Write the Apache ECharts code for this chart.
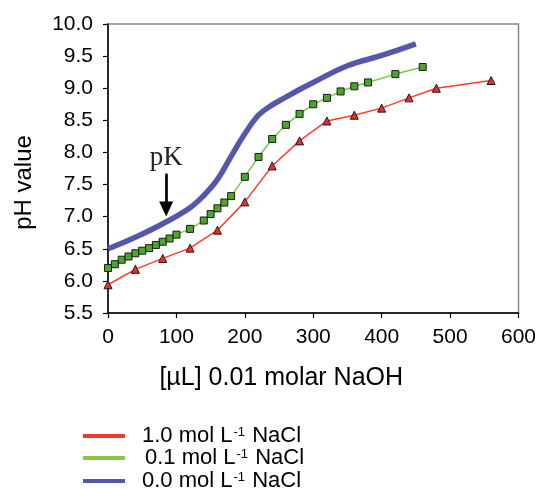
<!DOCTYPE html>
<html>
<head>
<meta charset="utf-8">
<script src="https://cdn.jsdelivr.net/npm/echarts@6/dist/echarts.min.js"></script>
<style>html,body{margin:0;padding:0;background:#fff}#c{width:539px;height:489px}</style>
</head>
<body>
<div id="c"></div>
<script>
const seriesNames = ['1.0 mol L-1 NaCl', '0.1 mol L-1 NaCl', '0.0 mol L-1 NaCl'];
const redX = [0, 40, 80, 120, 160, 200, 240, 280, 320, 360, 400, 440, 480, 560];
const redY = [5.94, 6.18, 6.35, 6.51, 6.79, 7.23, 7.79, 8.18, 8.49, 8.58, 8.69, 8.85, 9.00, 9.12];
const greenX = [0, 10, 20, 30, 40, 50, 60, 70, 80, 90, 100, 120, 140, 150, 160, 170, 180, 200, 220, 240, 260, 280, 300, 320, 340, 360, 380, 420, 460];
const greenY = [6.20, 6.26, 6.33, 6.38, 6.43, 6.47, 6.51, 6.56, 6.61, 6.66, 6.72, 6.81, 6.94, 7.04, 7.13, 7.22, 7.32, 7.62, 7.93, 8.21, 8.43, 8.60, 8.75, 8.85, 8.95, 9.03, 9.09, 9.22, 9.33];
const blueX = [0, 40, 80, 120, 140, 160, 180, 200, 220, 240, 260, 280, 300, 350, 400, 450];
const blueY = [6.50, 6.68, 6.89, 7.14, 7.33, 7.58, 7.94, 8.29, 8.58, 8.74, 8.86, 8.98, 9.09, 9.35, 9.51, 9.69];
const pK = { x: 85, yFrom: 7.67, yTo: 7.22, yHead: 7.12, label: 'pK' };

const zip = (xs, ys) => xs.map((x, i) => [x, ys[i]]);
const chart = echarts.init(document.getElementById('c'));
const font = 'Liberation Sans, Arial, sans-serif';
const legendColors = ['#f03a32', '#8dc63f', '#5558aa'];
const legendTops = [425, 447, 470];
const legendPad = [12, 15, 12];

const legends = seriesNames.map((n, i) => ({
  orient: 'vertical', left: 83, top: legendTops[i], padding: 0,
  itemWidth: 42, itemHeight: 4, icon: 'rect',
  data: [{ name: n, itemStyle: { color: legendColors[i], borderWidth: 0 } }],
  formatter: nm => {
    const p = nm.split('L-1');
    return '{a|' + p[0] + 'L}{s|-1}{a|' + p[1] + '}';
  },
  textStyle: {
    fontFamily: font, fontSize: 22, color: '#000', lineHeight: 20, padding: [0, 0, 0, legendPad[i]],
    rich: {
      a: { fontFamily: font, fontSize: 22, color: '#000', lineHeight: 20 },
      s: { fontFamily: font, fontSize: 13, color: '#000', lineHeight: 20, verticalAlign: 'top', padding: [0, 1, 9, 1] }
    }
  }
}));

chart.setOption({
  animation: false,
  grid: { left: 108, right: 20, top: 24, bottom: 176, show: true, borderColor: '#888', borderWidth: 1.5 },
  xAxis: {
    type: 'value', min: 0, max: 600, interval: 100,
    name: '[µL] 0.01 molar NaOH', nameLocation: 'middle', nameGap: 53,
    nameTextStyle: { fontFamily: font, fontSize: 25, color: '#000', padding: [0, 64, 0, 0] },
    axisLine: { lineStyle: { color: '#000', width: 1.5 } },
    axisTick: { show: true, length: 5, lineStyle: { color: '#000', width: 1.2 } },
    axisLabel: { fontFamily: font, fontSize: 21, color: '#000', margin: 14 },
    splitLine: { show: false }
  },
  yAxis: {
    type: 'value', min: 5.5, max: 10, interval: 0.5,
    name: 'pH value', nameLocation: 'middle', nameGap: 72,
    nameTextStyle: { fontFamily: font, fontSize: 24, color: '#000', padding: [0, 28, 0, 0] },
    axisLine: { show: true, lineStyle: { color: '#000', width: 1.5 } },
    axisTick: { show: true, length: 5, lineStyle: { color: '#000', width: 1.2 } },
    axisLabel: { fontFamily: font, fontSize: 21, color: '#000', margin: 15, formatter: v => v.toFixed(1) },
    splitLine: { show: false }
  },
  legend: legends,
  series: [
    {
      name: seriesNames[2], type: 'line', data: zip(blueX, blueY), smooth: 0.4,
      showSymbol: false, symbol: 'none',
      lineStyle: { color: '#5558aa', width: 5.5 }, itemStyle: { color: '#5558aa' }, z: 1,
      markLine: {
        silent: true, animation: false, symbol: ['none', 'none'],
        lineStyle: { color: '#000', width: 2.7, type: 'solid' },
        label: { show: true, position: 'start', formatter: pK.label, fontFamily: 'Liberation Serif, Times New Roman, serif', fontSize: 27, color: '#222', distance: 2 },
        data: [[{ coord: [pK.x, pK.yFrom] }, { coord: [pK.x, pK.yTo] }]]
      },
      markPoint: {
        silent: true, animation: false,
        symbol: 'triangle', symbolRotate: 180, symbolSize: [14, 15],
        itemStyle: { color: '#000' }, label: { show: false },
        data: [{ coord: [pK.x, pK.yHead] }]
      }
    },
    {
      name: seriesNames[1], type: 'line', data: zip(greenX, greenY),
      symbol: 'rect', symbolSize: 7,
      lineStyle: { color: '#7cc848', width: 1.5 },
      itemStyle: { color: '#4ca62c', borderColor: '#1a1a1a', borderWidth: 1 }, z: 3
    },
    {
      name: seriesNames[0], type: 'line', data: zip(redX, redY),
      symbol: 'triangle', symbolSize: 8,
      lineStyle: { color: '#ff3b30', width: 1.5 },
      itemStyle: { color: '#e8302a', borderColor: '#1a1a1a', borderWidth: 1 }, z: 3
    }
  ]
});
</script>
</body>
</html>
